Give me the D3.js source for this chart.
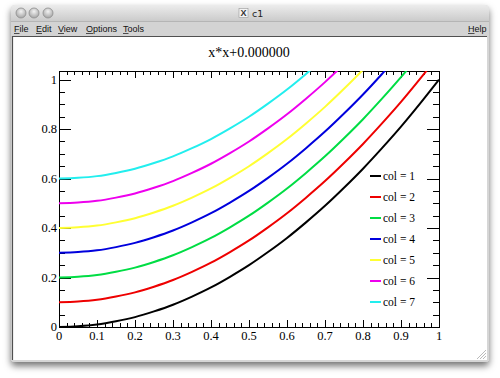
<!DOCTYPE html>
<html><head><meta charset="utf-8">
<script src="https://cdn.jsdelivr.net/npm/d3@7"></script>
<style>html,body{margin:0;padding:0;background:#fff;}svg{display:block;}</style>
</head><body>
<script>
// ---- data ----
const xValues = [0,0.05,0.1,0.15,0.2,0.25,0.3,0.35,0.4,0.45,0.5,0.55,0.6,0.65,0.7,0.75,0.8,0.85,0.9,0.95,1];
const col1 = [0,0.003,0.01,0.023,0.04,0.063,0.09,0.123,0.16,0.203,0.25,0.303,0.36,0.423,0.49,0.563,0.64,0.723,0.81,0.903,1.0];
const col2 = [0.1,0.103,0.11,0.123,0.14,0.163,0.19,0.223,0.26,0.303,0.35,0.403,0.46,0.523,0.59,0.663,0.74,0.823,0.91,1.003,1.1];
const col3 = [0.2,0.203,0.21,0.223,0.24,0.263,0.29,0.323,0.36,0.403,0.45,0.503,0.56,0.623,0.69,0.763,0.84,0.923,1.01,1.103,1.2];
const col4 = [0.3,0.303,0.31,0.323,0.34,0.363,0.39,0.423,0.46,0.503,0.55,0.603,0.66,0.723,0.79,0.863,0.94,1.023,1.11,1.203,1.3];
const col5 = [0.4,0.403,0.41,0.423,0.44,0.463,0.49,0.523,0.56,0.603,0.65,0.703,0.76,0.823,0.89,0.963,1.04,1.123,1.21,1.303,1.4];
const col6 = [0.5,0.503,0.51,0.523,0.54,0.563,0.59,0.623,0.66,0.703,0.75,0.803,0.86,0.923,0.99,1.063,1.14,1.223,1.31,1.403,1.5];
const col7 = [0.6,0.603,0.61,0.623,0.64,0.663,0.69,0.723,0.76,0.803,0.85,0.903,0.96,1.023,1.09,1.163,1.24,1.323,1.41,1.503,1.6];
const seriesNames = ["col = 1","col = 2","col = 3","col = 4","col = 5","col = 6","col = 7"];
const seriesValues = [col1,col2,col3,col4,col5,col6,col7];
const seriesColors = ["#000000","#ee0000","#00dd44","#0000dd","#ffff33","#ee00ee","#22eeee"];
const xTickLabels = ["0","0.1","0.2","0.3","0.4","0.5","0.6","0.7","0.8","0.9","1"];
const yTickLabels = ["0","0.2","0.4","0.6","0.8","1"];
const titleText = "x*x+0.000000";
const menuItems = ["File","Edit","View","Options","Tools"];

// ---- layout ----
const W = 500, H = 378;
const svg = d3.select("body").append("svg").attr("width", W).attr("height", H);
const defs = svg.append("defs");
const sh = defs.append("filter").attr("id","shadow").attr("x","-10%").attr("y","-10%").attr("width","120%").attr("height","125%");
sh.append("feDropShadow").attr("dx",0).attr("dy",4).attr("stdDeviation",3.5).attr("flood-color","#000").attr("flood-opacity",0.55);
const tg = defs.append("linearGradient").attr("id","titleGrad").attr("x1",0).attr("y1",0).attr("x2",0).attr("y2",1);
tg.append("stop").attr("offset","0%").attr("stop-color","#ececec");
tg.append("stop").attr("offset","100%").attr("stop-color","#cbcbcb");
const bg = defs.append("radialGradient").attr("id","btnGrad").attr("cx","50%").attr("cy","35%").attr("r","60%");
bg.append("stop").attr("offset","0%").attr("stop-color","#f2f2f2");
bg.append("stop").attr("offset","100%").attr("stop-color","#a9a9a9");

// window
const win = {x:11, y:5, w:478, h:357};
svg.append("rect").attr("x",win.x).attr("y",win.y).attr("width",win.w).attr("height",win.h)
  .attr("rx",4).attr("fill","#d6d6d6").attr("filter","url(#shadow)");
svg.append("path").attr("d",`M${win.x},21 V${win.y+4} Q${win.x},${win.y} ${win.x+4},${win.y} H${win.x+win.w-4} Q${win.x+win.w},${win.y} ${win.x+win.w},${win.y+4} V21 Z`)
  .attr("fill","url(#titleGrad)");
svg.append("rect").attr("x",win.x).attr("y",21).attr("width",win.w).attr("height",16).attr("fill","#d3d3d3");
svg.append("line").attr("x1",win.x).attr("x2",win.x+win.w).attr("y1",21.5).attr("y2",21.5).attr("stroke","#b5b5b5");
[21,34,48].forEach(cx=>{
  svg.append("circle").attr("cx",cx).attr("cy",13).attr("r",5).attr("fill","url(#btnGrad)").attr("stroke","#8e8e8e").attr("stroke-width",0.8);
});
// title bar icon + name
svg.append("rect").attr("x",239).attr("y",8.5).attr("width",9).attr("height",9).attr("fill","#f4f4f4").attr("stroke","#999").attr("stroke-width",0.6);
svg.append("text").attr("x",243.5).attr("y",16.3).attr("text-anchor","middle").attr("font-family","Liberation Sans, Arial").attr("font-size",9).attr("font-weight","bold").attr("fill","#333").text("X");
svg.append("text").attr("x",252).attr("y",16.5).attr("font-family","DejaVu Sans, Liberation Sans").attr("font-size",9.5).attr("fill","#222").text("c1");
// menu
const menuX = [14,36,58,86,123];
const menuFont = "Liberation Sans, Arial";
menuItems.forEach((m,i)=>{
  const t = svg.append("text").attr("x",menuX[i]).attr("y",32).attr("font-family",menuFont).attr("font-size",9).attr("fill","#111").text(m);
  const first = m[0];
  const tmp = svg.append("text").attr("font-family",menuFont).attr("font-size",9).text(first);
  const fw = tmp.node().getComputedTextLength(); tmp.remove();
  svg.append("line").attr("x1",menuX[i]).attr("x2",menuX[i]+fw).attr("y1",33.5).attr("y2",33.5).attr("stroke","#111").attr("stroke-width",0.7);
});
(function(){
  const hx = 468;
  svg.append("text").attr("x",hx).attr("y",32).attr("font-family",menuFont).attr("font-size",9).attr("fill","#111").text("Help");
  const tmp = svg.append("text").attr("font-family",menuFont).attr("font-size",9).text("H");
  const fw = tmp.node().getComputedTextLength(); tmp.remove();
  svg.append("line").attr("x1",hx).attr("x2",hx+fw).attr("y1",33.5).attr("y2",33.5).attr("stroke","#111").attr("stroke-width",0.7);
})();

// canvas
const cv = {x:13, y:37, w:474, h:323};
svg.append("rect").attr("x",cv.x).attr("y",cv.y).attr("width",cv.w).attr("height",cv.h).attr("fill","#ffffff");
svg.append("path").attr("d",`M${cv.x-0.5},${cv.y+cv.h} V${cv.y-0.5} H${cv.x+cv.w}`).attr("fill","none").attr("stroke","#505050").attr("stroke-width",1.2);
// resize grip
[4,7,10].forEach(o=>{
  svg.append("line").attr("x1",cv.x+cv.w-1).attr("y1",cv.y+cv.h-o).attr("x2",cv.x+cv.w-o).attr("y2",cv.y+cv.h-1).attr("stroke","#aaa").attr("stroke-width",0.8);
});

// ---- plot ----
const frame = {left:59, right:439, top:71, bottom:327};
const x = d3.scaleLinear().domain([0,1]).range([frame.left, frame.right]);
const y = d3.scaleLinear().domain([0,1.035]).range([frame.bottom, frame.top]);

defs.append("clipPath").attr("id","frameClip").append("rect")
  .attr("x",frame.left).attr("y",frame.top).attr("width",frame.right-frame.left).attr("height",frame.bottom-frame.top);

const serif = "Liberation Serif, Times New Roman, serif";

// title
svg.append("text").attr("x",249).attr("y",57).attr("text-anchor","middle").attr("font-family",serif).attr("font-size",14).attr("fill","#000").text(titleText);

// axes ticks
const g = svg.append("g");
const xMinor = d3.range(0,51).map(i=>i/50);
const yMinor = d3.range(0,21).map(i=>i*0.05);
const xMajor = xTickLabels.map(s=>+s);
const yMajor = yTickLabels.map(s=>+s);
function isMajor(v, arr){ return arr.some(a=>Math.abs(a-v)<1e-9); }
xMinor.forEach(v=>{
  const L = isMajor(v,xMajor) ? 7 : 4;
  const px = Math.round(x(v))+0.5;
  g.append("line").attr("x1",px).attr("x2",px).attr("y1",frame.bottom).attr("y2",frame.bottom-L).attr("stroke","#000").attr("stroke-width",1);
  g.append("line").attr("x1",px).attr("x2",px).attr("y1",frame.top).attr("y2",frame.top+L).attr("stroke","#000").attr("stroke-width",1);
});
yMinor.forEach(v=>{
  if (v > 1.035) return;
  const L = isMajor(v,yMajor) ? 12 : 6;
  const py = Math.round(y(v))+0.5;
  g.append("line").attr("x1",frame.left).attr("x2",frame.left+L).attr("y1",py).attr("y2",py).attr("stroke","#000").attr("stroke-width",1);
  g.append("line").attr("x1",frame.right).attr("x2",frame.right-L).attr("y1",py).attr("y2",py).attr("stroke","#000").attr("stroke-width",1);
});
// frame
svg.append("rect").attr("x",frame.left+0.5).attr("y",frame.top+0.5).attr("width",frame.right-frame.left).attr("height",frame.bottom-frame.top)
  .attr("fill","none").attr("stroke","#000").attr("stroke-width",1);

// tick labels
xTickLabels.forEach(s=>{
  svg.append("text").attr("x",x(+s)).attr("y",339.5).attr("text-anchor","middle").attr("font-family",serif).attr("font-size",12.5).attr("fill","#000").text(s);
});
yTickLabels.forEach(s=>{
  svg.append("text").attr("x",57).attr("y",y(+s)+4.3).attr("text-anchor","end").attr("font-family",serif).attr("font-size",12.5).attr("fill","#000").text(s);
});

// curves
const line = d3.line().x((d,i)=>x(xValues[i])).y(d=>y(d)).curve(d3.curveMonotoneX);
const curves = svg.append("g").attr("clip-path","url(#frameClip)");
seriesValues.forEach((vals,k)=>{
  curves.append("path").attr("d",line(vals)).attr("fill","none").attr("stroke",seriesColors[k]).attr("stroke-width",2);
});

// legend
const legY = d3.scaleLinear().domain([0,6]).range([176,302]);
seriesNames.forEach((n,k)=>{
  const ly = legY(k);
  svg.append("line").attr("x1",370).attr("x2",381).attr("y1",ly).attr("y2",ly).attr("stroke",seriesColors[k]).attr("stroke-width",2);
  svg.append("text").attr("x",383).attr("y",ly+4).attr("font-family",serif).attr("font-size",11.5).attr("fill","#000").text(n);
});
</script>
</body></html>
